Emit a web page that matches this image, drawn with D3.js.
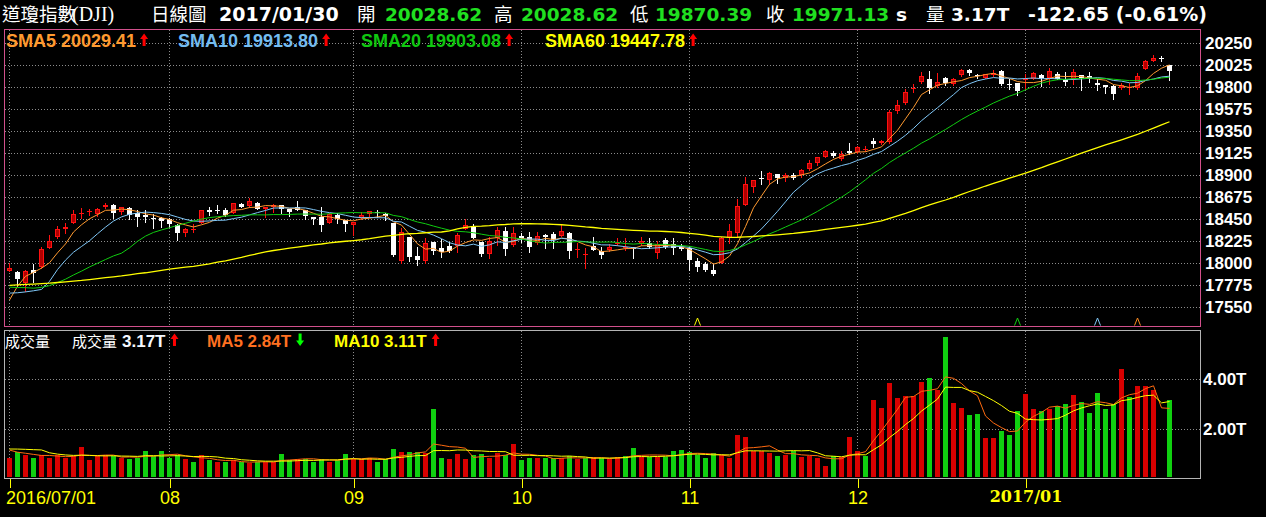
<!DOCTYPE html>
<html><head><meta charset="utf-8">
<script src="https://cdn.jsdelivr.net/npm/d3@7/dist/d3.min.js"></script>
<style>
html,body{margin:0;padding:0;background:#000;overflow:hidden;}
svg{display:block;}
</style></head>
<body>
<svg id="chart" width="1266" height="517"></svg>
<script>
// ================= DATA =================
const dates = [
"2016/07/01","2016/07/05","2016/07/06","2016/07/07","2016/07/08","2016/07/11","2016/07/12","2016/07/13","2016/07/14","2016/07/15",
"2016/07/18","2016/07/19","2016/07/20","2016/07/21","2016/07/22","2016/07/25","2016/07/26","2016/07/27","2016/07/28","2016/07/29",
"2016/08/01","2016/08/02","2016/08/03","2016/08/04","2016/08/05","2016/08/08","2016/08/09","2016/08/10","2016/08/11","2016/08/12",
"2016/08/15","2016/08/16","2016/08/17","2016/08/18","2016/08/19","2016/08/22","2016/08/23","2016/08/24","2016/08/25","2016/08/26",
"2016/08/29","2016/08/30","2016/08/31","2016/09/01","2016/09/02","2016/09/06","2016/09/07","2016/09/08","2016/09/09","2016/09/12",
"2016/09/13","2016/09/14","2016/09/15","2016/09/16","2016/09/19","2016/09/20","2016/09/21","2016/09/22","2016/09/23","2016/09/26",
"2016/09/27","2016/09/28","2016/09/29","2016/09/30","2016/10/03","2016/10/04","2016/10/05","2016/10/06","2016/10/07","2016/10/10",
"2016/10/11","2016/10/12","2016/10/13","2016/10/14","2016/10/17","2016/10/18","2016/10/19","2016/10/20","2016/10/21","2016/10/24",
"2016/10/25","2016/10/26","2016/10/27","2016/10/28","2016/10/31","2016/11/01","2016/11/02","2016/11/03","2016/11/04","2016/11/07",
"2016/11/08","2016/11/09","2016/11/10","2016/11/11","2016/11/14","2016/11/15","2016/11/16","2016/11/17","2016/11/18","2016/11/21",
"2016/11/22","2016/11/23","2016/11/25","2016/11/28","2016/11/29","2016/11/30","2016/12/01","2016/12/02","2016/12/05","2016/12/06",
"2016/12/07","2016/12/08","2016/12/09","2016/12/12","2016/12/13","2016/12/14","2016/12/15","2016/12/16","2016/12/19","2016/12/20",
"2016/12/21","2016/12/22","2016/12/23","2016/12/27","2016/12/28","2016/12/29","2016/12/30","2017/01/03","2017/01/04","2017/01/05",
"2017/01/06","2017/01/09","2017/01/10","2017/01/11","2017/01/12","2017/01/13","2017/01/17","2017/01/18","2017/01/19","2017/01/20",
"2017/01/23","2017/01/24","2017/01/25","2017/01/26","2017/01/27","2017/01/30"];

const opens = [
17924,17911,17802,17932,17966,18160,18266,18351,18416,18505,
18520,18505,18580,18597,18528,18563,18511,18494,18467,18460,
18450,18395,18313,18340,18409,18545,18545,18545,18518,18607,
18586,18614,18553,18573,18597,18552,18573,18545,18477,18477,
18416,18494,18443,18392,18460,18505,18528,18500,18416,18027,
18266,18075,18027,18215,18153,18177,18177,18348,18375,18222,
18095,18256,18334,18187,18283,18266,18205,18290,18297,18283,
18307,18136,18092,18180,18126,18136,18194,18153,18170,18194,
18205,18102,18239,18194,18170,18153,18024,17990,17932,18000,
18256,18314,18597,18784,18877,18852,18914,18869,18903,18903,
18968,19023,19091,19132,19064,19152,19142,19159,19254,19227,
19244,19561,19636,19779,19858,19882,19813,19899,19831,19923,
19977,19930,19899,19925,19967,19831,19841,19872,19889,19926,
19899,19936,19882,19882,19923,19916,19848,19821,19814,19797,
19790,19790,19991,20073,20100,20028.62];

const highs = [
18002,17924,17932,17993,18170,18290,18382,18409,18545,18562,
18552,18562,18620,18605,18573,18580,18545,18545,18505,18477,
18460,18400,18360,18400,18545,18572,18596,18562,18620,18620,
18668,18630,18580,18607,18597,18552,18638,18545,18477,18573,
18510,18511,18443,18426,18520,18539,18545,18511,18416,18358,
18266,18170,18256,18215,18245,18222,18307,18450,18402,18222,
18273,18368,18368,18368,18310,18317,18317,18300,18317,18392,
18317,18205,18153,18273,18170,18194,18262,18262,18170,18273,
18256,18232,18256,18256,18194,18170,18051,18017,17990,18273,
18400,18655,18880,18852,18944,18934,18914,18921,18921,18961,
19057,19084,19159,19152,19145,19227,19200,19200,19281,19261,
19568,19670,19779,19834,19960,19967,19950,19909,19899,19987,
19987,19934,19935,19980,19980,19882,19841,19933,19957,19933,
19999,19957,19957,19985,19923,19957,19882,19821,19821,19841,
19848,19950,20080,20127,20125,20028.62];

const lows = [
17917,17770,17713,17812,17956,18153,18256,18314,18416,18467,
18494,18484,18563,18460,18500,18450,18382,18426,18365,18375,
18370,18240,18280,18324,18409,18494,18510,18484,18510,18575,
18580,18552,18470,18525,18510,18480,18545,18450,18405,18334,
18416,18408,18334,18290,18450,18477,18477,18440,18078,18007,
18027,17983,18007,18100,18068,18119,18119,18348,18256,18075,
18051,18187,18085,18177,18218,18119,18194,18160,18153,18283,
18058,18068,17956,18136,18051,18126,18187,18136,18051,18187,
18153,18058,18160,18092,18136,17932,17922,17922,17881,18000,
18205,18273,18597,18733,18811,18811,18825,18845,18860,18886,
18955,19003,19091,19084,19057,19118,19132,19152,19186,19220,
19234,19534,19630,19755,19848,19745,19800,19820,19825,19912,
19930,19900,19899,19915,19820,19786,19718,19786,19889,19815,
19831,19887,19825,19831,19773,19855,19773,19742,19677,19780,
19729,19780,19991,20067,20064,19870.39];

const closes = [
17949.37,17840.62,17918.62,17895.88,18146.74,18226.93,18347.67,18372.12,18506.41,18516.55,
18533.05,18559.01,18595.03,18517.23,18570.85,18493.06,18473.75,18472.17,18456.35,18432.24,
18404.51,18313.77,18355.00,18352.05,18543.53,18529.29,18533.05,18495.66,18613.52,18576.47,
18636.05,18552.02,18573.94,18597.70,18552.57,18529.42,18547.30,18481.48,18448.41,18395.40,
18502.99,18454.30,18400.88,18419.30,18491.96,18538.12,18526.14,18479.91,18085.45,18325.07,
18066.75,18034.77,18212.48,18123.80,18120.17,18129.96,18293.70,18392.46,18261.45,18094.83,
18228.30,18339.24,18143.45,18308.15,18253.85,18168.45,18281.03,18268.50,18240.49,18329.04,
18128.66,18144.20,18098.94,18138.38,18086.40,18161.94,18202.62,18162.35,18145.71,18223.03,
18169.27,18199.33,18169.68,18161.19,18142.42,18037.10,17959.64,17930.67,17888.28,18259.60,
18332.74,18589.69,18807.88,18847.66,18868.69,18923.06,18868.14,18903.82,18867.93,18956.69,
19023.87,19083.18,19152.14,19097.90,19121.60,19123.58,19191.93,19170.42,19216.24,19251.78,
19549.62,19614.81,19756.85,19796.43,19911.21,19792.53,19852.24,19843.41,19883.06,19974.62,
19941.96,19918.88,19933.81,19945.04,19833.68,19819.78,19762.60,19881.76,19942.16,19899.29,
19963.80,19887.38,19855.53,19954.28,19891.00,19885.73,19826.77,19804.72,19732.40,19827.25,
19799.85,19912.71,20068.51,20100.91,20093.78,19971.13];

// volume, in T
const volumes = [
0.87,1.08,0.99,0.87,0.99,0.87,0.96,0.87,0.92,1.28,
0.79,0.92,0.96,0.92,0.87,0.83,0.87,1.15,0.92,1.15,
0.87,0.96,0.83,0.71,0.96,0.76,0.68,0.68,0.76,0.68,
0.67,0.71,0.71,0.71,1.00,0.76,0.83,0.83,0.71,0.83,
0.71,0.76,1.03,0.83,0.80,0.87,0.71,0.83,1.23,1.08,
1.08,1.08,1.04,2.80,0.84,0.80,1.00,0.80,0.96,1.00,
0.87,1.04,0.99,1.40,0.76,0.84,0.84,0.84,0.87,0.84,
0.95,0.81,0.84,0.91,0.84,0.81,0.91,0.95,1.24,0.91,
0.88,0.91,0.91,1.12,1.16,1.08,0.97,0.84,1.04,0.96,
0.84,1.76,1.68,1.12,1.12,1.04,0.92,0.96,1.12,0.88,
0.95,0.84,0.52,0.95,0.88,1.68,1.12,0.92,3.16,2.84,
3.84,3.24,3.32,3.32,3.88,4.04,3.56,5.68,3.04,2.84,
2.56,2.60,1.64,1.64,1.92,1.76,2.72,3.40,2.80,2.72,
2.80,2.92,3.00,3.36,3.08,2.64,3.45,2.80,3.00,4.40,
3.28,3.74,3.72,3.56,0,3.17];

// closes / volumes of the sessions just before the window (moving-average warm-up)
const priorCloses = [
17576.96,17556.41,17721.25,17908.28,17926.43,17897.46,
18004.16,18053.60,18096.27,17982.52,18003.75,
17977.24,17990.32,18041.55,17830.76,17773.64,
17891.16,17750.91,17651.26,17660.71,17740.63,
17705.91,17928.35,17711.12,17720.50,17535.32,
17710.71,17529.98,17526.62,17435.40,17500.94,
17492.93,17706.05,17851.51,17828.29,17873.22,
17787.20,17789.67,17838.56,17807.06,
17920.33,17938.28,18005.05,17985.19,17865.34,
17732.48,17674.82,17640.17,17733.10,17675.16,
17804.87,17829.73,17780.83,18011.07,17400.75,
17140.24,17409.72,17694.68,17929.99];
const priorVolumes = [1.1,1.1,1.0,1.1,2.0,1.5,1.2,1.1,1.2];

const priceTicks = [17550,17775,18000,18225,18450,18675,18900,19125,19350,19575,19800,20025,20250];
const volumeTicks = [2,4];
const monthLabels = ["2016/07/01","08","09","10","11","12","2017/01"];
const smaPeriods = [5,10,20,60];
const volMaPeriods = [5,10];
const signalIdx = [86,126,136,141];

// ================= STYLE =================
const C = {
  bg:"#000", grid:"#8c8c8c", pBorder:"#d2508c", vBorder:"#b4b4b4",
  upEdge:"#ff1010", upFill:"#b00000", down:"#ffffff",
  vUp:"#d80000", vDown:"#10d010",
  sma:["#ff9a30","#80c8f8","#10cc10","#ffff00"],
  smaText:["#ff9a30","#74bcf0","#10c810","#ffff00"],
  vma:["#ff6a10","#ffff00"], vmaText:["#ff7020","#ffff00"],
  axis:"#ffff00", hdrGreen:"#20e020",
  signal:["#ffff00","#10d010","#80c8f8","#ff8c20"]
};
const SANS = "'Liberation Sans', Arial, sans-serif";
const BOLD = "'DejaVu Sans', Verdana, sans-serif";
const CJK = "'Noto Sans CJK TC', 'Noto Sans CJK SC', sans-serif";

// ================= SCALES =================
const n = closes.length;
const PX0 = 4, PX1 = 1200;
const P = {top:29, bottom:326};
const V = {top:330, bottom:478};
const x = d3.scaleLinear().domain([0, n-1]).range([9, 1169]);
const y = d3.scaleLinear().domain([17550, 20250]).range([307.3, 43.3]);
const yv = d3.scaleLinear().domain([0, 4]).range([479.5, 379.3]);
const idx = d3.range(n);

function movingAvg(arr, prior, k){
  const all = prior.concat(arr), off = prior.length;
  return arr.map((_, i) => {
    const j = i + off;
    if (j - k + 1 < 0) return null;
    return d3.sum(all.slice(j - k + 1, j + 1)) / k;
  });
}
const smas = smaPeriods.map(k => movingAvg(closes, priorCloses, k));
const vmas = volMaPeriods.map(k => movingAvg(volumes, priorVolumes, k));
const prevClose = i => i === 0 ? priorCloses[priorCloses.length-1] : closes[i-1];

const svg = d3.select("#chart");
svg.append("rect").attr("width",1266).attr("height",517).attr("fill",C.bg);

// ================= HEADER =================
const last = n - 1;
const chg = closes[last] - closes[last-1];
const pct = chg / closes[last-1] * 100;
const hdr = svg.append("g");
const hItems = [
  {x:2, t:"道瓊指數", f:CJK, c:"#fff"},
  {x:72, t:"(DJI)", f:"'Liberation Serif', serif", c:"#fff", s:20},
  {x:151, t:"日線圖", f:CJK, c:"#fff"},
  {x:219, t:dates[last], f:BOLD, w:"bold", c:"#fff", s:19},
  {x:357, t:"開", f:CJK, c:"#fff"},
  {x:385, t:opens[last].toFixed(2), f:BOLD, w:"bold", c:C.hdrGreen},
  {x:494, t:"高", f:CJK, c:"#fff"},
  {x:521, t:highs[last].toFixed(2), f:BOLD, w:"bold", c:C.hdrGreen},
  {x:630, t:"低", f:CJK, c:"#fff"},
  {x:655, t:lows[last].toFixed(2), f:BOLD, w:"bold", c:C.hdrGreen},
  {x:766, t:"收", f:CJK, c:"#fff"},
  {x:792, t:closes[last].toFixed(2), f:BOLD, w:"bold", c:C.hdrGreen},
  {x:896, t:"s", f:BOLD, w:"bold", c:"#fff"},
  {x:926, t:"量", f:CJK, c:"#fff"},
  {x:951, t:volumes[last].toFixed(2)+"T", f:BOLD, w:"bold", c:"#fff"},
  {x:1028, t:chg.toFixed(2)+" ("+pct.toFixed(2)+"%)", f:BOLD, w:"bold", c:"#fff", s:19}
];
hdr.selectAll("text").data(hItems).join("text")
  .attr("x",d=>d.x).attr("y",21).text(d=>d.t)
  .attr("font-family",d=>d.f).attr("font-weight",d=>d.w||"normal")
  .attr("font-size",d=>d.s||18.5).attr("fill",d=>d.c);

// ================= GRID =================
const monthIdx = idx.filter(i => i === 0 || dates[i].slice(0,7) !== dates[i-1].slice(0,7));
const grid = svg.append("g").attr("shape-rendering","crispEdges")
  .attr("stroke",C.grid).attr("stroke-dasharray","1,2");
grid.selectAll("line.hp").data(priceTicks).join("line").attr("class","hp")
  .attr("x1",PX0+1).attr("x2",PX1).attr("y1",d=>Math.round(y(d))+0.5).attr("y2",d=>Math.round(y(d))+0.5);
grid.selectAll("line.hv").data(volumeTicks).join("line").attr("class","hv")
  .attr("x1",PX0+1).attr("x2",PX1).attr("y1",d=>Math.round(yv(d))+0.5).attr("y2",d=>Math.round(yv(d))+0.5);
grid.selectAll("line.vp").data(monthIdx).join("line").attr("class","vp")
  .attr("x1",i=>x(i)+0.5).attr("x2",i=>x(i)+0.5).attr("y1",P.top+1).attr("y2",P.bottom);
grid.selectAll("line.vv").data(monthIdx).join("line").attr("class","vv")
  .attr("x1",i=>x(i)+0.5).attr("x2",i=>x(i)+0.5).attr("y1",V.top+1).attr("y2",V.bottom);

// ================= CANDLES =================
const cg = svg.append("g").attr("shape-rendering","crispEdges");
const isUp = i => closes[i] >= opens[i];
cg.selectAll("line").data(idx).join("line")
  .attr("x1",i=>x(i)+0.5).attr("x2",i=>x(i)+0.5)
  .attr("y1",i=>Math.round(y(highs[i]))).attr("y2",i=>Math.round(y(lows[i]))+1)
  .attr("stroke",i=>isUp(i)?C.upEdge:C.down);
const bTop = i => Math.round(y(Math.max(opens[i],closes[i])));
const bBot = i => Math.max(bTop(i)+1, Math.round(y(Math.min(opens[i],closes[i]))));
cg.selectAll("rect.b").data(idx).join("rect").attr("class","b")
  .attr("x",i=>x(i)-2).attr("width",5)
  .attr("y",bTop).attr("height",i=>bBot(i)-bTop(i))
  .attr("fill",i=>isUp(i)?C.upEdge:C.down);
cg.selectAll("rect.in").data(idx.filter(i=>isUp(i) && bBot(i)-bTop(i)>=3)).join("rect").attr("class","in")
  .attr("x",i=>x(i)-1).attr("width",3)
  .attr("y",i=>bTop(i)+1).attr("height",i=>bBot(i)-bTop(i)-2)
  .attr("fill",C.upFill);

// ================= SMA LINES =================
const line = (sc) => d3.line().defined(d=>d[1]!=null).x(d=>x(d[0])+0.5).y(d=>sc(d[1]));
const lg = svg.append("g").attr("fill","none");
smas.forEach((s,k)=>{
  lg.append("path").datum(idx.map(i=>[i,s[i]])).attr("d",line(y))
    .attr("stroke",C.sma[k]).attr("stroke-width",k===3?1.3:1);
});

// signal markers
svg.append("g").selectAll("path").data(signalIdx).join("path")
  .attr("d",i=>`M${x(i)-2.5},${P.bottom-0.5}L${x(i)+0.5},${P.bottom-8}L${x(i)+3.5},${P.bottom-0.5}`)
  .attr("fill","none").attr("stroke",(d,k)=>C.signal[k]).attr("stroke-width",1);

// ================= VOLUME =================
const vg = svg.append("g").attr("shape-rendering","crispEdges");
vg.selectAll("rect").data(idx.filter(i=>volumes[i]>0)).join("rect")
  .attr("x",i=>x(i)-2).attr("width",5)
  .attr("y",i=>Math.round(yv(volumes[i]))).attr("height",i=>V.bottom-1-Math.round(yv(volumes[i])))
  .attr("fill",i=>closes[i]>=prevClose(i)?C.vUp:C.vDown);
vmas.forEach((s,k)=>{
  svg.append("path").datum(idx.map(i=>[i,s[i]])).attr("d",line(yv))
    .attr("fill","none").attr("stroke",C.vma[k]).attr("stroke-width",1);
});

// ================= PANELS =================
svg.append("rect").attr("x",PX0+0.5).attr("y",P.top+0.5).attr("width",PX1-PX0).attr("height",P.bottom-P.top)
  .attr("fill","none").attr("stroke",C.pBorder).attr("shape-rendering","crispEdges");
svg.append("rect").attr("x",PX0+0.5).attr("y",V.top+0.5).attr("width",PX1-PX0).attr("height",V.bottom-V.top)
  .attr("fill","none").attr("stroke",C.vBorder).attr("shape-rendering","crispEdges");

// ================= AXES =================
const styleAxisText = (sel, size) => sel.selectAll("text")
  .attr("fill","#fff").attr("font-family",SANS).attr("font-weight","bold").attr("font-size",size);
svg.append("g").attr("transform",`translate(${PX1+1},0)`)
  .call(d3.axisRight(y).tickValues(priceTicks).tickSize(0).tickPadding(4).tickFormat(d3.format("d")))
  .call(g=>g.select(".domain").remove())
  .call(g=>styleAxisText(g,17));
svg.append("g").attr("transform",`translate(${PX1+1},0)`)
  .call(d3.axisRight(yv).tickValues(volumeTicks).tickSize(0).tickPadding(2).tickFormat(d=>d.toFixed(2)+"T"))
  .call(g=>g.select(".domain").remove())
  .call(g=>styleAxisText(g,17));

const xa = svg.append("g").attr("transform",`translate(0.5,${V.bottom+1})`)
  .call(d3.axisBottom(x).tickValues(monthIdx).tickSize(9).tickPadding(3).tickFormat((d,k)=>monthLabels[k]));
xa.select(".domain").remove();
xa.selectAll("line").attr("stroke",C.axis).attr("shape-rendering","crispEdges");
xa.selectAll("text").attr("fill",C.axis).attr("font-family",SANS).attr("font-size",18)
  .each(function(d,k){
    const t = d3.select(this);
    if (k === 0) t.attr("text-anchor","start").attr("x",-4);
    if (monthLabels[k].startsWith("2017")) t.attr("font-family","'DejaVu Serif', serif").attr("font-weight","bold").attr("font-size",16);
  });

// ================= LEGENDS =================
function arrow(g, cx, baseY, up, color){
  const p = up
    ? `M${cx-4},${baseY-7}L${cx},${baseY-12.5}L${cx+4},${baseY-7}L${cx+1.5},${baseY-7}L${cx+1.5},${baseY}L${cx-1.5},${baseY}L${cx-1.5},${baseY-7}Z`
    : `M${cx-4},${baseY-5.5}L${cx},${baseY}L${cx+4},${baseY-5.5}L${cx+1.5},${baseY-5.5}L${cx+1.5},${baseY-12.5}L${cx-1.5},${baseY-12.5}L${cx-1.5},${baseY-5.5}Z`;
  g.append("path").attr("d",p).attr("fill",color);
}
const legP = svg.append("g");
const legX = [6,178,361,545];
smas.forEach((s,k)=>{
  const t = legP.append("text").attr("x",legX[k]).attr("y",46.5)
    .attr("font-family",SANS).attr("font-weight","bold").attr("font-size",18).attr("fill",C.smaText[k])
    .text("SMA"+smaPeriods[k]+" "+s[last].toFixed(2));
  const w = t.node().getComputedTextLength();
  const up = s[last] >= s[last-1];
  arrow(legP, legX[k]+w+8, 46, up, up?"#ff0000":"#00ff00");
});

const legV = svg.append("g").attr("font-size",17);
legV.append("text").attr("x",5).attr("y",346.5).attr("font-family",CJK).attr("font-size",15).attr("fill","#fff").text("成交量");
legV.append("text").attr("x",72).attr("y",346.5).attr("font-family",CJK).attr("font-size",15).attr("fill","#fff").text("成交量");
const vt = legV.append("text").attr("x",122).attr("y",346.5).attr("font-family",SANS).attr("font-weight","bold").attr("fill","#f4f8ff")
  .text(volumes[last].toFixed(2)+"T");
{
  const w = vt.node().getComputedTextLength();
  const up = volumes[last] >= volumes[last-1];
  arrow(legV, 122+w+9, 346, up, up?"#ff0000":"#00ff00");
}
const vLegX = [207,334];
vmas.forEach((s,k)=>{
  const t = legV.append("text").attr("x",vLegX[k]).attr("y",346.5)
    .attr("font-family",SANS).attr("font-weight","bold").attr("fill",C.vmaText[k])
    .text("MA"+volMaPeriods[k]+" "+s[last].toFixed(2)+"T");
  const w = t.node().getComputedTextLength();
  const up = s[last] >= s[last-1];
  arrow(legV, vLegX[k]+w+9, 346, up, up?"#ff0000":"#00ff00");
});
</script>
</body></html>
